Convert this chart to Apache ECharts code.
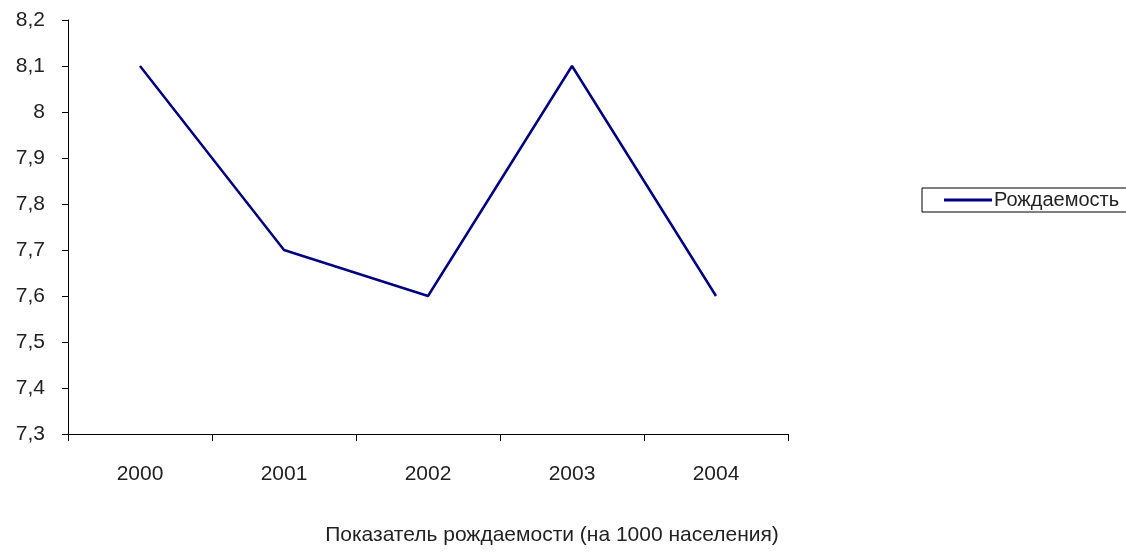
<!DOCTYPE html>
<html><head><meta charset="utf-8">
<script src="https://cdn.jsdelivr.net/npm/echarts@6/dist/echarts.min.js"></script>
<style>html,body{margin:0;padding:0;background:#fff}#c{width:1126px;height:553px}</style>
</head><body><div id="c"></div>
<script>
const years = ['2000', '2001', '2002', '2003', '2004'];
const birthRate = [8.1, 7.7, 7.6, 8.1, 7.6];
const seriesName = 'Рождаемость';
const xTitle = 'Показатель рождаемости (на 1000 населения)';

const FONT = '"Liberation Sans Narrow", "Liberation Sans", Arial, sans-serif';
const chart = echarts.init(document.getElementById('c'), null, {renderer: 'canvas'});
chart.setOption({
  animation: false,
  backgroundColor: '#fff',
  grid: {left: 68, right: 338, top: 20, bottom: 119, containLabel: false},
  title: {
    text: xTitle, left: 547, top: 520, textAlign: 'center',
    textStyle: {fontFamily: FONT, fontSize: 21, fontWeight: 'normal', color: '#222'}
  },
  legend: {
    data: [seriesName], left: 922, top: 188, orient: 'vertical',
    padding: [2, 40, 2, 22],
    borderColor: '#000', borderWidth: 1,
    itemWidth: 48, itemHeight: 3, itemGap: 0,
    icon: 'rect',
    textStyle: {fontFamily: FONT, fontSize: 20, color: '#222', padding: [0, 0, 0, -3]}
  },
  xAxis: {
    type: 'category', data: years, boundaryGap: true,
    axisLine: {lineStyle: {color: '#000', width: 1}},
    axisTick: {show: true, length: 7, alignWithLabel: false, lineStyle: {color: '#000'}},
    axisLabel: {margin: 30, fontFamily: FONT, fontSize: 21, color: '#222'},
    splitLine: {show: false}
  },
  yAxis: {
    type: 'value', min: 7.3, max: 8.2, interval: 0.1,
    axisLine: {show: true, lineStyle: {color: '#000', width: 1}},
    axisTick: {show: true, length: 6, lineStyle: {color: '#000'}},
    axisLabel: {margin: 23, fontFamily: FONT, fontSize: 21, color: '#222',
      formatter: v => (Math.round(v * 10) / 10).toString().replace('.', ',')},
    splitLine: {show: false}
  },
  series: [{
    name: seriesName, type: 'line', data: birthRate,
    symbol: 'none', lineStyle: {color: '#000080', width: 2.5},
    itemStyle: {color: '#000080'}
  }]
});
</script></body></html>
